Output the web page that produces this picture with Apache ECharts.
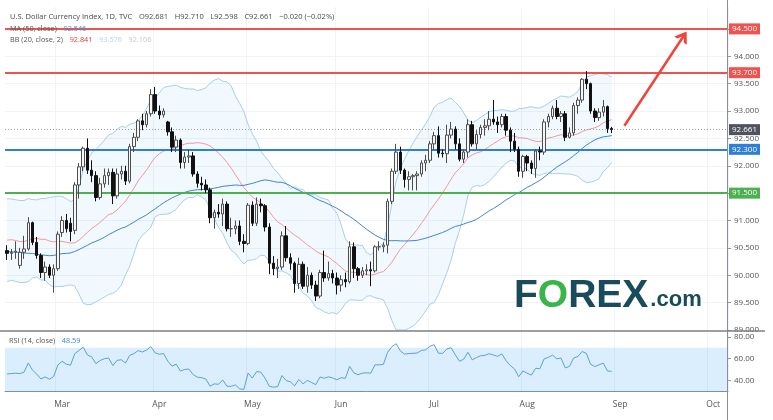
<!DOCTYPE html>
<html><head><meta charset="utf-8">
<script src="https://cdn.jsdelivr.net/npm/echarts@6/dist/echarts.min.js"></script>
<style>html,body{margin:0;padding:0;background:#fff}#c{width:773px;height:420px}</style>
</head><body><div id="c"></div>
<script>
// Closes before the visible window (Nov 30 2020 - Feb 9 2021), used only to seed MA/BB/RSI
const preCloses = [91.87,91.23,91.11,90.71,90.70,90.80,91.00,91.09,90.79,90.98,90.72,90.47,90.44,89.84,90.02,90.10,90.66,90.37,90.29,90.29,90.35,89.95,89.68,89.94,89.94,89.88,89.43,89.53,89.83,90.10,90.47,90.10,90.38,90.23,90.77,90.77,90.48,90.47,90.09,90.23,90.37,90.15,90.63,90.44,90.54,91.03,91.15,91.14,91.53,91.03,90.93,90.44];

// Daily bars [open, high, low, close]
const febBars = [[90.45,90.55,90.28,90.40],[90.40,90.48,90.28,90.42],[90.42,90.62,90.30,90.44],[90.18,90.50,90.12,90.42],[90.42,90.72,90.30,90.48],[90.48,91.06,90.45,90.96],[90.96,90.98,90.55,90.60],[90.60,90.70,90.30,90.36],[90.36,90.40,89.95,90.05],[90.05,90.25,89.90,90.15],[90.15,90.20,89.95,90.00],[90.00,90.20,89.68,90.12],[90.12,90.80,90.08,90.75]];
const marBars = [[90.78,91.08,90.70,91.00],[91.00,91.12,90.78,90.85],[90.95,91.05,90.62,90.80],[90.82,91.70,90.75,91.65],[91.65,92.05,91.40,91.98],[91.98,92.35,91.90,92.32],[92.32,92.50,91.85,91.92],[91.92,92.10,91.70,91.82],[91.82,91.90,91.35,91.42],[91.42,91.78,91.38,91.67],[91.67,91.95,91.60,91.82],[91.82,91.95,91.65,91.88],[91.88,91.95,91.30,91.45],[91.45,91.95,91.40,91.85],[91.85,92.00,91.75,91.90],[91.90,92.00,91.65,91.72],[91.72,92.40,91.68,92.35],[92.35,92.60,92.25,92.52],[92.52,92.85,92.45,92.82],[92.82,92.95,92.65,92.75],[92.75,93.00,92.70,92.95],[92.95,93.40,92.90,93.30],[93.30,93.44,92.95,93.00]];
const aprBars = [[93.00,93.10,92.85,92.93],[92.93,93.05,92.88,93.00],[92.80,92.82,92.55,92.62],[92.62,92.70,92.25,92.34],[92.34,92.55,92.25,92.47],[92.47,92.50,91.95,92.06],[92.06,92.25,91.95,92.16],[92.16,92.30,92.05,92.18],[92.18,92.25,91.80,91.85],[91.85,91.90,91.60,91.68],[91.68,91.80,91.55,91.65],[91.65,91.75,91.50,91.56],[91.56,91.60,90.95,91.05],[91.05,91.20,90.85,91.15],[91.15,91.30,91.05,91.12],[91.12,91.40,90.90,91.30],[91.30,91.35,90.80,90.85],[90.85,91.05,90.70,90.85],[90.85,91.00,90.75,90.90],[90.90,91.00,90.55,90.62],[90.62,90.75,90.42,90.58],[90.58,91.32,90.55,91.28]];
const mayBars = [[91.28,91.35,90.90,90.95],[90.95,91.42,90.90,91.30],[91.30,91.40,91.15,91.27],[91.27,91.30,90.80,90.88],[90.88,90.95,90.02,90.22],[90.22,90.35,90.00,90.12],[90.12,90.30,89.95,90.15],[90.15,90.80,90.10,90.72],[90.72,90.90,90.25,90.32],[90.32,90.40,90.10,90.22],[90.22,90.25,89.68,89.85],[89.85,90.32,89.75,90.20],[90.20,90.25,89.75,89.80],[89.80,90.15,89.68,90.00],[90.00,90.05,89.75,89.82],[89.82,89.90,89.53,89.62],[89.62,90.10,89.58,90.05],[90.05,90.45,89.88,89.95],[89.95,90.25,89.90,90.03],[90.03,90.10,89.85,89.95],[89.95,90.05,89.65,89.82]];
const junBars = [[89.82,90.00,89.70,89.92],[89.92,90.05,89.78,89.88],[89.88,90.62,89.85,90.52],[90.52,90.60,89.95,90.12],[90.12,90.15,89.90,90.00],[90.00,90.15,89.95,90.08],[90.08,90.20,90.00,90.10],[90.10,90.25,89.80,90.08],[90.08,90.55,90.05,90.52],[90.52,90.62,90.45,90.52],[90.52,90.60,90.42,90.55],[90.55,91.40,90.40,91.35],[91.35,91.95,91.30,91.90],[91.90,92.40,91.85,92.25],[92.25,92.35,91.85,91.92],[91.92,91.95,91.60,91.75],[91.75,91.90,91.55,91.80],[91.80,91.85,91.55,91.82],[91.82,91.90,91.55,91.85],[91.85,92.10,91.80,92.05],[92.05,92.20,91.90,92.10],[92.10,92.45,92.05,92.40]];
const julBars = [[92.40,92.62,92.30,92.55],[92.55,92.72,92.15,92.23],[92.23,92.30,92.15,92.22],[92.22,92.75,92.05,92.56],[92.56,92.80,92.50,92.67],[92.67,92.72,92.30,92.40],[92.40,92.50,92.08,92.12],[92.12,92.30,92.05,92.25],[92.25,92.85,92.15,92.75],[92.75,92.82,92.35,92.40],[92.40,92.65,92.30,92.57],[92.57,92.75,92.50,92.70],[92.70,92.85,92.55,92.73],[92.73,93.00,92.65,92.85],[92.85,93.20,92.75,92.80],[92.80,92.90,92.60,92.75],[92.75,92.95,92.70,92.90],[92.90,92.95,92.55,92.65],[92.65,92.70,92.25,92.45],[92.45,92.60,92.25,92.30],[92.30,92.35,91.80,91.90],[91.90,92.20,91.78,92.17]];
const augBars = [[92.17,92.20,91.90,92.05],[92.05,92.10,91.85,91.95],[91.95,92.30,91.78,92.27],[92.27,92.35,92.10,92.25],[92.25,92.85,92.20,92.80],[92.80,92.95,92.70,92.90],[92.90,93.10,92.85,93.05],[93.05,93.20,92.85,92.90],[92.90,93.00,92.80,92.95],[92.95,93.00,92.45,92.52],[92.52,92.70,92.50,92.60],[92.60,93.15,92.55,93.10],[93.10,93.25,92.95,93.20],[93.20,93.60,93.15,93.58],[93.58,93.73,93.40,93.50],[93.50,93.52,92.95,93.00],[93.00,93.05,92.80,92.88],[92.88,93.05,92.82,92.98],[92.98,93.20,92.90,93.08],[93.08,93.10,92.60,92.68],[92.681,92.710,92.598,92.661]];

// Horizontal levels drawn on the chart
const redLevels = [94.5, 93.7];
const blueLevel = 92.3;
const greenLevel = 91.5;
const lastPrice = 92.661;
// Arrow annotation [category index, price]
const arrowFrom = [146, 92.73];
const arrowTo = [160, 94.37];

const priceTicks = [89,89.5,90,90.5,91,91.5,92,92.5,93,93.5,94,94.5];
const rsiTicks = [40,60,80];
const monthNames = ['Jan','Feb','Mar','Apr','May','Jun','Jul','Aug','Sep','Oct','Nov','Dec'];

const bars = [].concat(febBars, marBars, aprBars, mayBars, junBars, julBars, augBars);

// weekday categories from 2021-02-10 through 2021-10-06
const dates = [];
(function(){
  const d = new Date(Date.UTC(2021,1,10));
  const end = new Date(Date.UTC(2021,9,6));
  while (d <= end) {
    const wd = d.getUTCDay();
    if (wd !== 0 && wd !== 6) dates.push(d.toISOString().slice(0,10));
    d.setUTCDate(d.getUTCDate()+1);
  }
})();
function isMonthStart(i){ return i>0 && dates[i] && dates[i-1] && dates[i].slice(5,7)!==dates[i-1].slice(5,7); }

// indicators
const allClose = preCloses.concat(bars.map(b=>b[3]));
const P = preCloses.length;
const ma50=[], bbMid=[], bbUp=[], bbLo=[], bbDiff=[], rsi=[];
for (let i=0;i<bars.length;i++){
  const g = P+i;
  let s=0; for(let k=g-49;k<=g;k++) s+=allClose[k]; ma50.push(+(s/50).toFixed(4));
  let s2=0; for(let k=g-19;k<=g;k++) s2+=allClose[k]; const m=s2/20;
  let v=0; for(let k=g-19;k<=g;k++) v+=(allClose[k]-m)*(allClose[k]-m); const sd=Math.sqrt(v/20);
  bbMid.push(+m.toFixed(4)); bbUp.push(+(m+2*sd).toFixed(4)); bbLo.push(+(m-2*sd).toFixed(4)); bbDiff.push(+(4*sd).toFixed(4));
}
(function(){
  let ag=0, al=0;
  for (let k=1;k<allClose.length;k++){
    const ch = allClose[k]-allClose[k-1];
    const gn = Math.max(ch,0), ls = Math.max(-ch,0);
    if (k<=14){ ag+=gn/14; al+=ls/14; }
    else { ag=(ag*13+gn)/14; al=(al*13+ls)/14; }
    if (k>=P){ rsi.push(+(al===0?100:100-100/(1+ag/al)).toFixed(2)); }
  }
})();

const RED='#ef5350', BLUE='#2f7fd8', GREEN='#4caf50', GRIDC='#f0f3fa';
const FONT='Open Sans';
const chart = echarts.init(document.getElementById('c'), null, {renderer:'canvas'});

function lvl(val, color, lw, type){
  const txt = val.toFixed(3);
  return {yAxis: val, lineStyle:{color:color, width:lw, type:type||'solid'},
    label:{backgroundColor:color, formatter:()=>txt}};
}

chart.setOption({
  animation:false,
  backgroundColor:'#ffffff',
  grid:[
    {left:5, right:45, top:7, height:323},
    {left:5, right:45, top:332.7, height:58.5}
  ],
  xAxis:[
    {type:'category', gridIndex:0, data:dates, boundaryGap:true,
     axisLine:{show:false}, axisTick:{show:false}, axisLabel:{show:false},
     splitLine:{show:true, interval:(i)=>isMonthStart(i+1), lineStyle:{color:GRIDC}}},
    {type:'category', gridIndex:1, data:dates, boundaryGap:true,
     axisLine:{show:true, lineStyle:{color:'#8a8d94', width:1}}, axisTick:{show:false},
     axisLabel:{interval:(i)=>isMonthStart(i), formatter:(v)=>monthNames[+v.slice(5,7)-1],
       color:'#555', fontSize:8.5, fontFamily:FONT, margin:9},
     splitLine:{show:true, interval:(i)=>isMonthStart(i+1), lineStyle:{color:GRIDC}}}
  ],
  yAxis:[
    {type:'value', gridIndex:0, position:'right', min:89, max:94.9, interval:0.5,
     axisLine:{show:false},
     axisTick:{show:true, length:3, lineStyle:{color:'#999'}, customValues:priceTicks},
     axisLabel:{customValues:priceTicks, formatter:(v)=>v.toFixed(3), color:'#555', fontSize:8, fontFamily:FONT, margin:6},
     splitLine:{show:true, lineStyle:{color:GRIDC}}},
    {type:'value', gridIndex:1, position:'right', min:30, max:84, interval:10,
     axisLine:{show:false},
     axisTick:{show:true, length:3, lineStyle:{color:'#999'}, customValues:rsiTicks},
     axisLabel:{customValues:rsiTicks, formatter:(v)=>v.toFixed(2), color:'#555', fontSize:8, fontFamily:FONT, margin:6},
     splitLine:{show:false}}
  ],
  series:[
    {name:'bbLower', type:'line', xAxisIndex:0, yAxisIndex:0, data:bbLo, stack:'bb', symbol:'none',
     lineStyle:{color:'#a9cdf0', width:1}, z:1},
    {name:'bbWidth', type:'line', xAxisIndex:0, yAxisIndex:0, data:bbDiff, stack:'bb', symbol:'none',
     lineStyle:{color:'#a9cdf0', width:1}, areaStyle:{color:'rgba(33,150,243,0.09)'}, z:1},
    {name:'bbBasis', type:'line', xAxisIndex:0, yAxisIndex:0, data:bbMid, symbol:'none',
     lineStyle:{color:'#f19a9a', width:1}, z:2},
    {name:'ma50', type:'line', xAxisIndex:0, yAxisIndex:0, data:ma50, symbol:'none',
     lineStyle:{color:'#3f86d0', width:1}, z:2},
    {name:'DXY', type:'candlestick', xAxisIndex:0, yAxisIndex:0,
     data:bars.map(b=>[b[0],b[3],b[2],b[1]]), barWidth:3,
     itemStyle:{color:'#f7f7f7', color0:'#111', borderColor:'#4d4d4d', borderColor0:'#111', borderWidth:1}, z:5,
     markLine:{silent:true, symbol:['none','none'], animation:false,
       label:{position:'end', color:'#fff', fontSize:8, fontFamily:FONT,
              padding:[2,3,1,3], distance:1},
       data:[
         lvl(redLevels[0], RED, 1.8),
         lvl(redLevels[1], RED, 1.8),
         lvl(blueLevel, BLUE, 1.8),
         lvl(greenLevel, GREEN, 1.8),
         {yAxis:lastPrice, lineStyle:{color:'#9aa0aa', width:1, type:[1,2]}, label:{backgroundColor:'#50535e', formatter:()=>lastPrice.toFixed(3)}},
         [{coord:[dates[arrowFrom[0]], arrowFrom[1]], symbol:'none'},
          {coord:[dates[arrowTo[0]], arrowTo[1]], symbol:'path://M0,10 L5,0 L10,10 L7.6,10 L5,4.6 L2.4,10 Z', symbolSize:[15,11],
           lineStyle:{color:'#f0443a', width:2.5, type:'solid'}, label:{show:false}}]
       ]}},
    {name:'RSI', type:'line', xAxisIndex:1, yAxisIndex:1, data:rsi, symbol:'none',
     lineStyle:{color:'#5a9fe0', width:1}, z:3,
     markArea:{silent:true, itemStyle:{color:'rgba(33,150,243,0.16)'}, data:[[{yAxis:30},{yAxis:70}]]}}
  ],
  graphic:[
    {type:'line', shape:{x1:727.5,y1:0,x2:727.5,y2:420}, style:{stroke:'#8a8d94', lineWidth:1}, z:50},
    {type:'line', shape:{x1:0,y1:331,x2:765,y2:331}, style:{stroke:'#7d8088', lineWidth:1.5}, z:50},
    {type:'text', x:10, y:17, z:60, style:{
      text:'{t|U.S. Dollar Currency Index, 1D, TVC}  {t|O92.681}  {t|H92.710}  {t|L92.598}  {t|C92.661}  {t|\u22120.020 (\u22120.02%)}',
      verticalAlign:'middle', rich:{t:{fill:'#4a4a4a', fontSize:7.5, fontFamily:FONT}}}},
    {type:'text', x:10, y:29, z:60, style:{
      text:'{t|MA (50, close)}  {b|92.546}',
      verticalAlign:'middle', rich:{t:{fill:'#555', fontSize:7.3, fontFamily:FONT}, b:{fill:'#3f86d0', fontSize:7.3, fontFamily:FONT}}}},
    {type:'text', x:10, y:40, z:60, style:{
      text:'{t|BB (20, close, 2)}  {r|92.841}  {u|93.576}  {l|92.106}',
      verticalAlign:'middle', rich:{t:{fill:'#555', fontSize:7.3, fontFamily:FONT}, r:{fill:'#e53935', fontSize:7.3, fontFamily:FONT},
        u:{fill:'#b9cfe6', fontSize:7.3, fontFamily:FONT}, l:{fill:'#c4c7cc', fontSize:7.3, fontFamily:FONT}}}},
    {type:'text', x:9, y:341, z:60, style:{
      text:'{t|RSI (14, close)}  {b|48.59}',
      verticalAlign:'middle', rich:{t:{fill:'#555', fontSize:7.3, fontFamily:FONT}, b:{fill:'#3f86d0', fontSize:7.3, fontFamily:FONT}}}},
    {type:'text', x:514, y:296, z:40, style:{
      text:'{a|F}{g|O}{a|REX}{c|.com}',
      verticalAlign:'middle',
      rich:{a:{fill:'#1a4b5a', fontSize:39, fontWeight:'bold', fontFamily:'Liberation Sans'},
            g:{fill:'#39b54a', fontSize:39, fontWeight:'bold', fontFamily:'Liberation Sans'},
            c:{fill:'#1a4b5a', fontSize:22, fontWeight:'bold', fontFamily:'Liberation Sans', padding:[8,0,0,2]}}}}
  ]
});
</script></body></html>
